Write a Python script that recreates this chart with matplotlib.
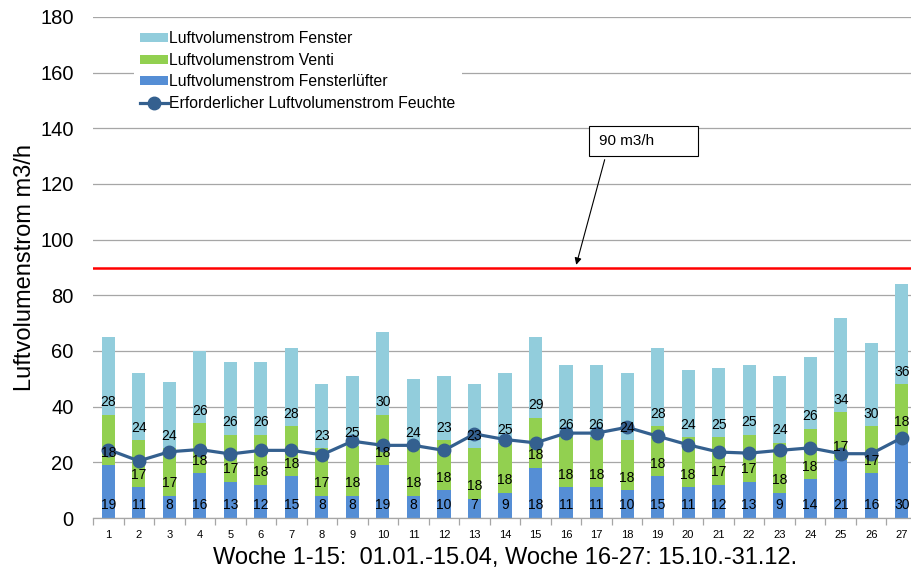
import matplotlib.pyplot as plt
from matplotlib.patches import Rectangle
import numpy as np

plt.rcParams['font.family'] = ['Liberation Sans', 'DejaVu Sans']

weeks = list(range(1, 28))
fensterluefter = [19, 11, 8, 16, 13, 12, 15, 8, 8, 19, 8, 10, 7, 9, 18, 11, 11, 10, 15, 11, 12, 13, 9, 14, 21, 16, 30]
venti = [18, 17, 17, 18, 17, 18, 18, 17, 18, 18, 18, 18, 18, 18, 18, 18, 18, 18, 18, 18, 17, 17, 18, 18, 17, 17, 18]
fenster = [28, 24, 24, 26, 26, 26, 28, 23, 25, 30, 24, 23, 23, 25, 29, 26, 26, 24, 28, 24, 25, 25, 24, 26, 34, 30, 36]
feuchte = [24.6, 20.5, 23.8, 24.6, 23.0, 24.3, 24.3, 22.7, 27.6, 26.1, 26.1, 24.3, 30.2, 28.2, 27.0,
           30.5, 30.5, 32.6, 29.4, 26.3, 23.7, 23.3, 24.3, 25.2, 23.1, 23.1, 28.8]
grenzwert = 90

c_fenster = '#92CDDC'
c_venti = '#92D050'
c_fl = '#558ED5'
c_line = '#34608F'

fig = plt.figure(figsize=(9.12, 5.75), dpi=100)
ax = fig.add_axes([93/912, 57/575, 824/912, 501/575])

x = np.array(weeks)
fl = np.array(fensterluefter)
ve = np.array(venti)
fe = np.array(fenster)
w = 0.43

b_fe = ax.bar(x, fe, w, bottom=fl + ve, color=c_fenster, label='Luftvolumenstrom Fenster', zorder=2)
b_ve = ax.bar(x, ve, w, bottom=fl, color=c_venti, label='Luftvolumenstrom Venti', zorder=2)
b_fl = ax.bar(x, fl, w, color=c_fl, label='Luftvolumenstrom Fensterlüfter', zorder=2)

# value labels at the base of each segment
for xi, a, b, c in zip(x, fl, ve, fe):
    for base, val in [(0, a), (a, b), (a + b, c)]:
        ax.text(xi, base + 4.5, str(val), ha='center', va='center', fontsize=10, zorder=5)

ln, = ax.plot(x, feuchte, color=c_line, lw=2.3, marker='o', ms=9,
              label='Erforderlicher Luftvolumenstrom Feuchte', zorder=4)

ax.axhline(grenzwert, color='#FF0000', lw=1.8, zorder=3)

# callout for the limit line
ax.add_patch(Rectangle((16.74, 130.1), 3.57, 10.8, facecolor='white', edgecolor='black', lw=0.8, zorder=6))
ax.text(17.07, 135.5, '90 m3/h', ha='left', va='center', fontsize=11, zorder=7)
ax.annotate('', xy=(16.31, grenzwert), xytext=(17.29, 129.7),
            arrowprops=dict(arrowstyle='-|>', color='black', lw=0.8, mutation_scale=10), zorder=6)

ax.set_xlim(0.5, 27.48)
ax.set_ylim(0, 180)
ax.set_yticks(range(0, 181, 20))
ax.yaxis.grid(True, color='#A6A6A6', lw=0.9, zorder=0)
ax.set_axisbelow(True)

ax.set_xticks(x)
ax.set_xticklabels([str(i) for i in weeks], fontsize=8)
ax.set_xticks(np.arange(0.5, 28, 1), minor=True)
ax.tick_params(axis='x', which='major', length=0, pad=9)
ax.tick_params(axis='x', which='minor', length=5, color='#A6A6A6', width=0.9)
ax.tick_params(axis='y', length=0, pad=14, labelsize=14.5)

for s in ['top', 'right', 'left']:
    ax.spines[s].set_visible(False)
ax.spines['bottom'].set_color('#A6A6A6')
ax.spines['bottom'].set_linewidth(0.9)

ax.set_ylabel('Luftvolumenstrom m3/h', fontsize=17, labelpad=3)
ax.set_xlabel('Woche 1-15:  01.01.-15.04, Woche 16-27: 15.10.-31.12.', fontsize=17, labelpad=5)

leg = ax.legend([b_fe, b_ve, b_fl, ln],
                ['Luftvolumenstrom Fenster', 'Luftvolumenstrom Venti',
                 'Luftvolumenstrom Fensterlüfter', 'Erforderlicher Luftvolumenstrom Feuchte'],
                loc='upper left', bbox_to_anchor=(0.04, 1.0), fontsize=11.3, frameon=True,
                facecolor='white', edgecolor='none', framealpha=1, fancybox=False,
                handlelength=1.75, handleheight=0.5, handletextpad=0.1, labelspacing=0.42,
                borderpad=0.4)
leg.set_zorder(8)

fig.savefig('out.png', dpi=100)
